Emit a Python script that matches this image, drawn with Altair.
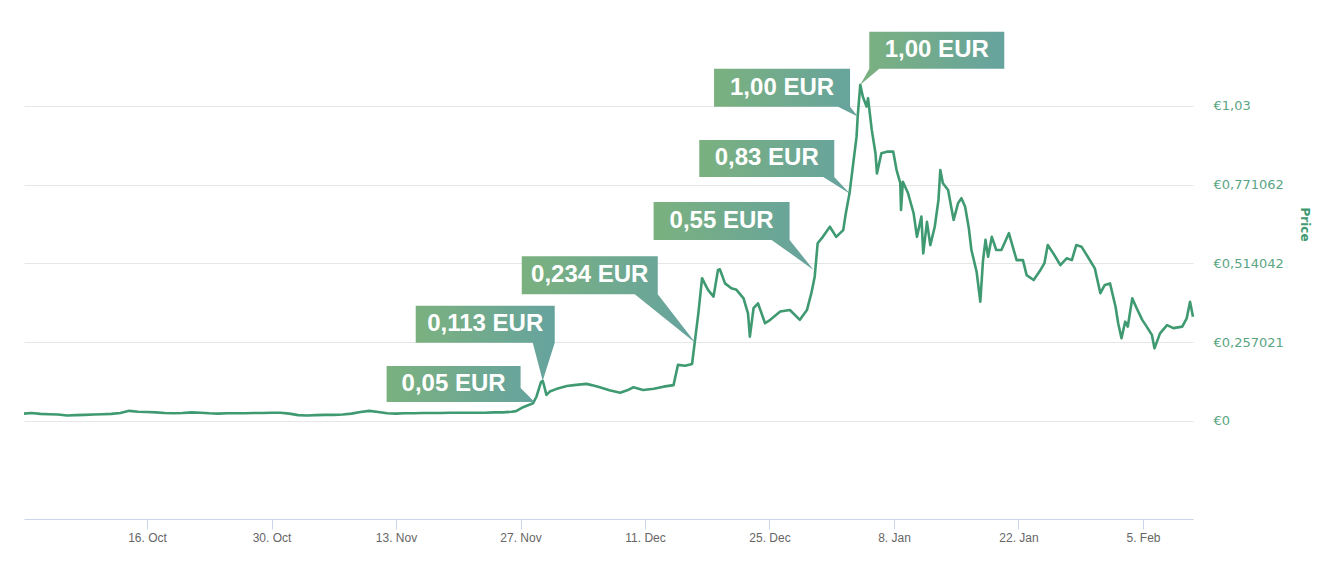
import altair as alt
import pandas as pd

# ---------------- data ----------------
dates = [
    "2017-10-02T04:00", "2017-10-03T00:00", "2017-10-04T00:00", "2017-10-05T00:00", "2017-10-06T00:00",
    "2017-10-07T00:00", "2017-10-08T00:00", "2017-10-09T00:00", "2017-10-10T00:00", "2017-10-11T00:00",
    "2017-10-12T00:00", "2017-10-13T00:00", "2017-10-14T00:00", "2017-10-15T00:00", "2017-10-16T00:00",
    "2017-10-17T00:00", "2017-10-18T00:00", "2017-10-19T00:00", "2017-10-20T00:00", "2017-10-21T00:00",
    "2017-10-22T00:00", "2017-10-23T00:00", "2017-10-24T00:00", "2017-10-25T00:00", "2017-10-26T00:00",
    "2017-10-27T00:00", "2017-10-28T00:00", "2017-10-29T00:00", "2017-10-30T00:00", "2017-10-31T00:00",
    "2017-11-01T00:00", "2017-11-02T00:00", "2017-11-03T00:00", "2017-11-04T00:00", "2017-11-05T00:00",
    "2017-11-06T00:00", "2017-11-07T00:00", "2017-11-08T00:00", "2017-11-09T00:00", "2017-11-10T00:00",
    "2017-11-11T00:00", "2017-11-12T00:00", "2017-11-13T00:00", "2017-11-14T00:00", "2017-11-15T00:00",
    "2017-11-16T00:00", "2017-11-17T00:00", "2017-11-18T00:00", "2017-11-19T00:00", "2017-11-20T00:00",
    "2017-11-21T00:00", "2017-11-22T00:00", "2017-11-23T00:00", "2017-11-24T00:00", "2017-11-25T00:00",
    "2017-11-26T00:00", "2017-11-26T12:00", "2017-11-27T07:00", "2017-11-28T10:00", "2017-11-28T19:00",
    "2017-11-29T07:00", "2017-11-29T12:00", "2017-11-29T14:00", "2017-11-29T22:00", "2017-11-30T07:00",
    "2017-12-01T00:00", "2017-12-02T05:00", "2017-12-03T00:00", "2017-12-04T10:00", "2017-12-05T00:00",
    "2017-12-05T22:00", "2017-12-07T00:00", "2017-12-08T05:00", "2017-12-09T00:00", "2017-12-09T17:00",
    "2017-12-10T19:00", "2017-12-12T00:00", "2017-12-13T02:00", "2017-12-14T05:00", "2017-12-14T17:00",
    "2017-12-15T12:00", "2017-12-16T07:00", "2017-12-16T14:00", "2017-12-17T00:00", "2017-12-17T10:00",
    "2017-12-17T17:00", "2017-12-18T02:00", "2017-12-18T17:00", "2017-12-19T05:00", "2017-12-19T10:00",
    "2017-12-20T00:00", "2017-12-20T17:00", "2017-12-21T07:00", "2017-12-22T02:00", "2017-12-22T14:00",
    "2017-12-22T19:00", "2017-12-23T05:00", "2017-12-23T17:00", "2017-12-24T12:00", "2017-12-25T02:00",
    "2017-12-26T05:00", "2017-12-27T07:00", "2017-12-28T10:00", "2017-12-29T05:00", "2017-12-29T17:00",
    "2017-12-30T02:00", "2017-12-30T10:00", "2017-12-31T00:00", "2017-12-31T19:00", "2018-01-01T12:00",
    "2018-01-02T07:00", "2018-01-02T14:00", "2018-01-03T00:00", "2018-01-03T10:00", "2018-01-03T19:00",
    "2018-01-03T22:00", "2018-01-04T05:00", "2018-01-04T12:00", "2018-01-04T22:00", "2018-01-05T02:00",
    "2018-01-05T12:00", "2018-01-05T22:00", "2018-01-06T02:00", "2018-01-06T14:00", "2018-01-07T05:00",
    "2018-01-07T22:00", "2018-01-08T07:00", "2018-01-08T17:00", "2018-01-08T19:00", "2018-01-09T00:00",
    "2018-01-09T14:00", "2018-01-10T05:00", "2018-01-10T14:00", "2018-01-11T02:00", "2018-01-11T07:00",
    "2018-01-11T17:00", "2018-01-12T02:00", "2018-01-12T14:00", "2018-01-13T00:00", "2018-01-13T05:00",
    "2018-01-13T12:00", "2018-01-14T02:00", "2018-01-14T17:00", "2018-01-15T05:00", "2018-01-15T14:00",
    "2018-01-16T00:00", "2018-01-16T10:00", "2018-01-16T17:00", "2018-01-17T07:00", "2018-01-17T17:00",
    "2018-01-18T00:00", "2018-01-18T07:00", "2018-01-18T14:00", "2018-01-19T00:00", "2018-01-19T12:00",
    "2018-01-20T02:00", "2018-01-20T22:00", "2018-01-21T19:00", "2018-01-22T12:00", "2018-01-22T22:00",
    "2018-01-23T17:00", "2018-01-24T10:00", "2018-01-24T22:00", "2018-01-25T07:00", "2018-01-25T22:00",
    "2018-01-26T17:00", "2018-01-27T10:00", "2018-01-28T00:00", "2018-01-28T12:00", "2018-01-29T02:00",
    "2018-01-29T19:00", "2018-01-30T14:00", "2018-01-31T05:00", "2018-01-31T17:00", "2018-02-01T07:00",
    "2018-02-01T22:00", "2018-02-02T05:00", "2018-02-02T14:00", "2018-02-03T00:00", "2018-02-03T07:00",
    "2018-02-03T19:00", "2018-02-04T07:00", "2018-02-04T22:00", "2018-02-05T10:00", "2018-02-06T00:00",
    "2018-02-06T07:00", "2018-02-06T22:00", "2018-02-07T17:00", "2018-02-08T10:00", "2018-02-09T10:00",
    "2018-02-09T22:00", "2018-02-10T07:00", "2018-02-10T15:00",
]
prices = [
    0.024, 0.026, 0.023, 0.022, 0.021,
    0.018, 0.019, 0.020, 0.021, 0.022,
    0.023, 0.026, 0.033, 0.030, 0.029,
    0.028, 0.026, 0.025, 0.026, 0.028,
    0.027, 0.025, 0.024, 0.025, 0.025,
    0.025, 0.026, 0.026, 0.027, 0.027,
    0.024, 0.019, 0.018, 0.019, 0.020,
    0.020, 0.021, 0.024, 0.029, 0.033,
    0.029, 0.025, 0.024, 0.025, 0.025,
    0.026, 0.026, 0.026, 0.027, 0.027,
    0.027, 0.027, 0.027, 0.028, 0.028,
    0.030, 0.032, 0.045, 0.058, 0.079,
    0.126, 0.131, 0.123, 0.085, 0.096,
    0.104, 0.114, 0.117, 0.121, 0.117,
    0.110, 0.100, 0.092, 0.100, 0.110,
    0.101, 0.105, 0.112, 0.117, 0.183,
    0.180, 0.186, 0.254, 0.351, 0.466,
    0.449, 0.428, 0.406, 0.493, 0.495,
    0.449, 0.433, 0.428, 0.400, 0.351,
    0.275, 0.368, 0.384, 0.319, 0.330,
    0.357, 0.362, 0.330, 0.362, 0.417,
    0.471, 0.580, 0.601, 0.634, 0.601,
    0.623, 0.678, 0.743, 0.841, 0.928,
    0.993, 1.097, 1.058, 1.026, 1.053,
    0.950, 0.874, 0.808, 0.874, 0.879,
    0.879, 0.819, 0.776, 0.689, 0.781,
    0.743, 0.678, 0.601, 0.667, 0.547,
    0.650, 0.574, 0.634, 0.721, 0.819,
    0.776, 0.754, 0.656, 0.711, 0.727,
    0.699, 0.629, 0.558, 0.487, 0.389,
    0.520, 0.591, 0.536, 0.601, 0.558,
    0.558, 0.613, 0.525, 0.525, 0.476,
    0.460, 0.490, 0.515, 0.574, 0.547,
    0.509, 0.531, 0.525, 0.574, 0.569,
    0.536, 0.498, 0.417, 0.444, 0.449,
    0.373, 0.319, 0.270, 0.324, 0.308,
    0.400, 0.368, 0.330, 0.308, 0.281,
    0.237, 0.286, 0.313, 0.303, 0.308,
    0.335, 0.389, 0.340,
]

ann_dates = ["2017-11-28T14:00", "2017-11-29T12:00", "2017-12-16T17:00", "2017-12-29T23:00",
             "2018-01-03T02:00", "2018-01-03T23:00", "2018-01-04T05:00"]
ann_prices = [0.062, 0.131, 0.254, 0.493, 0.741, 0.993, 1.097]
ann_labels = ["0,05 EUR", "0,113 EUR", "0,234 EUR", "0,55 EUR", "0,83 EUR", "1,00 EUR", "1,00 EUR"]

y_ticks = [0, 0.257021, 0.514042, 0.771062, 1.028083]
x_ticks = ["2017-10-16", "2017-10-30", "2017-11-13", "2017-11-27", "2017-12-11",
           "2017-12-25", "2018-01-08", "2018-01-22", "2018-02-05"]

# ---------------- style ----------------
LINE = "#3f9a72"
LABEL_GREEN = "#5aa583"
GRAD = alt.Gradient(
    gradient="linear",
    stops=[alt.GradientStop(color="#7bb17f", offset=0), alt.GradientStop(color="#66a39e", offset=1)],
    x1=0, x2=1, y1=0, y2=0,
)
# callout shapes, in pixels relative to the anchor point (tip at 0,0)
CALLOUT_PATHS = [
    "M-148,-36 H-14 V-14 L0,0 H-148 Z",
    "M-127,-75 H12 V-38 L0,0 L-10,-38 H-127 Z",
    "M-174,-87 H-38 V-49 L0,0 L-61,-49 H-174 Z",
    "M-160,-68 H-24 V-30 L0,0 L-42,-30 H-160 Z",
    "M-151,-54 H-16 V-17 L0,0 L-27,-17 H-151 Z",
    "M-144,-48 H-8 V-10 L0,0 L-20,-10 H-144 Z",
    "M9,-53 H144 V-16 H19 L0,0 L9,-16 Z",
]
TEXT_OFFSETS = [(-81, -18), (-57.5, -56.5), (-106, -68), (-92, -49), (-83.5, -35.5), (-76, -29), (76.5, -34.5)]

W, H = 1169, 466


def dt(s, hours=0):
    t = pd.Timestamp(s)
    return alt.DateTime(year=t.year, month=t.month, date=t.day, hours=t.hour or hours)


x_scale = alt.Scale(domain=[dt("2017-10-02", 4), dt("2018-02-10", 15)], nice=False)
y_scale = alt.Scale(domain=[-0.32, 1.201], nice=False, zero=False)

df = pd.DataFrame({"date": dates, "price": prices})
ann = pd.DataFrame({"date": ann_dates, "price": ann_prices, "label": ann_labels,
                    "idx": list(range(len(ann_labels)))})

x_axis = alt.Axis(
    values=[dt(s) for s in x_ticks], format="%-d. %b", grid=False, title=None,
    domainColor="#ccd6eb", tickColor="#ccd6eb", tickSize=10, labelPadding=3,
    labelColor="#666666", labelFont="Liberation Sans", labelFontSize=12,
)
y_axis = alt.Axis(
    orient="right", values=y_ticks, grid=True, gridColor="#e6e6e6", domain=False, ticks=False,
    labelPadding=20, labelColor=LABEL_GREEN, labelFont="DejaVu Sans", labelFontSize=13,
    labelExpr="datum.value > 1 ? '€1,03' : (datum.value == 0 ? '€0' : '€' + replace(format(datum.value, '.6f'), '.', ','))",
    title="Price", titleColor=LINE, titleFont="DejaVu Sans", titleFontSize=12, titleFontWeight="bold",
    titleAngle=90, titleX=111, titleY=171, titleAlign="center", titleBaseline="middle",
)

line = alt.Chart(df).mark_line(color=LINE, strokeWidth=2.6, strokeJoin="round").encode(
    x=alt.X("date:T", scale=x_scale, axis=x_axis),
    y=alt.Y("price:Q", scale=y_scale, axis=y_axis),
)

layers = [line]
for i, path in enumerate(CALLOUT_PATHS):
    base = alt.Chart(ann).transform_filter(alt.datum.idx == i).encode(
        x=alt.X("date:T", scale=x_scale),
        y=alt.Y("price:Q", scale=y_scale),
    )
    box = base.mark_point(shape=path, size=4, filled=True, fill=GRAD, strokeWidth=0, opacity=1)
    dx, dy = TEXT_OFFSETS[i]
    txt = base.mark_text(dx=dx, dy=dy, align="center", baseline="middle", color="white",
                         font="Liberation Sans", fontSize=24, fontWeight="bold").encode(text="label:N")
    layers += [box, txt]

chart = alt.layer(*layers).properties(
    width=W, height=H,
    padding={"left": 16, "top": 45, "right": 130, "bottom": 40},
    autosize=alt.AutoSizeParams(type="none"),
).configure(background="white").configure_view(stroke=None)

chart.save("out.html", embed_options={"renderer": "svg", "actions": False})
